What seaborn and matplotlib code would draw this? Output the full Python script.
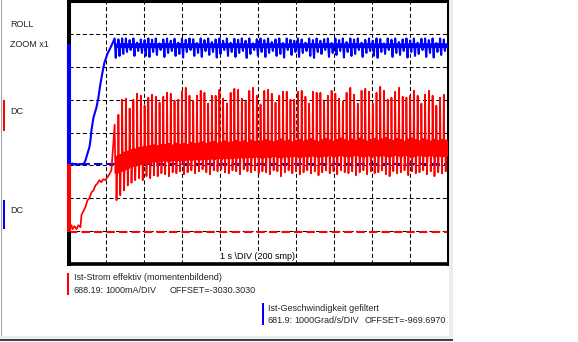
import numpy as np
import pandas as pd
import matplotlib
matplotlib.use("Agg")
import matplotlib.pyplot as plt
from matplotlib.patches import Rectangle
import seaborn as sns

# ---------------- data ----------------
RED_NAME = "Ist-Strom effektiv (momentenbildend)"
RED_INFO = ["688.19:", "1000mA/DIV", "OFFSET=-3030.3030"]
RED_INFO_X = [74, 105, 170]
BLUE_NAME = "Ist-Geschwindigkeit gefiltert"
BLUE_INFO = ["681.9:", "1000Grad/s/DIV", "OFFSET=-969.6970"]
BLUE_INFO_X = [268, 294, 365]
TIME_LABEL = "1 s \\DIV (200 smp)"

red_scale = 1000.0      # mA / DIV
red_offset = -3030.3030
blue_scale = 1000.0     # Grad/s / DIV
blue_offset = -969.6970

# current (mA) during start-up, before the ripple starts
red_start_t = [0.0, 0.026, 0.079, 0.105, 0.158, 0.211, 0.263, 0.316, 0.342, 0.395,
               0.447, 0.5, 0.553, 0.605, 0.658, 0.711, 0.763, 0.816, 0.868, 0.921,
               0.974, 1.026, 1.079, 1.132]
red_start_v = [270, 120, 210, 90, 180, 90, 210, 150, 520, 640,
               760, 970, 1030, 1210, 1270, 1420, 1480, 1580, 1520, 1610,
               1580, 1670, 1760, 1880]

# speed (Grad/s) ramp
blue_ramp_t = [0.0, 0.1, 0.2, 0.3, 0.368, 0.41, 0.447, 0.5, 0.553, 0.579, 0.605, 0.658,
               0.737, 0.789, 0.842, 0.895, 0.947, 1.026, 1.079, 1.132]
blue_ramp_v = [0, 20, -10, 10, 0, 30, 120, 330, 530, 730, 1030, 1420,
               1730, 2030, 2450, 2790, 3090, 3360, 3480, 3610]

# ripple period grid (seconds)
spike_first_t = 1.218
spike_last_t = 9.903

red_top = [3270, 3570, 4030, 4060, 3760, 4030, 4210, 4150, 3850, 4090,
           4180, 4120, 3940, 4120, 4240, 4210, 4000, 4030, 4270, 4390,
           4150, 4000, 4150, 4300, 4240, 3910, 4150, 4150, 4330, 4060,
           3910, 4240, 4360, 4330, 4060, 3970, 4300, 4390, 4150, 3880,
           4300, 4330, 4210, 3940, 4150, 4270, 4270, 4030, 4030, 4270,
           4300, 4120, 3910, 4270, 4240, 4240, 3970, 4150, 4300, 4210,
           4060, 3970, 4240, 4390, 4180, 3910, 4300, 4360, 4270, 3910,
           4240, 4420, 4300, 4030, 4090, 4270, 4390, 4120, 4090, 4150,
           4300, 4150, 3910, 4180, 4300, 4150, 3850, 4090, 4180]
red_low = [970, 1120, 1270, 1420, 1500, 1580, 1640, 1580, 1700, 1640,
           1730, 1700, 1790, 1760, 1700, 1820, 1790, 1850, 1760, 1820,
           1880, 1790, 1850, 1910, 1820, 1760, 1880, 1850, 1910, 1820,
           1790, 1880, 1850, 1760, 1910, 1850, 1820, 1880, 1790, 1850,
           1820, 1760, 1880, 1850, 1700, 1820, 1880, 1790, 1850, 1760,
           1820, 1880, 1790, 1850, 1730, 1820, 1880, 1790, 1850, 1760,
           1880, 1820, 1790, 1850, 1730, 1820, 1880, 1760, 1850, 1790,
           1820, 1880, 1760, 1700, 1850, 1790, 1820, 1880, 1730, 1850,
           1790, 1820, 1880, 1760, 1850, 1700, 1820, 1790, 1850]
red_band_hi = [2300, 2350, 2420, 2450, 2500, 2520, 2560, 2580, 2600, 2620,
               2640, 2620, 2660, 2650, 2680, 2640, 2700, 2660, 2690, 2650,
               2720, 2680, 2700, 2740, 2690, 2720, 2750, 2700, 2730, 2760,
               2720, 2740, 2780, 2730, 2760, 2720, 2790, 2750, 2730, 2770,
               2800, 2760, 2740, 2780, 2820, 2760, 2790, 2740, 2770, 2810,
               2760, 2790, 2830, 2780, 2750, 2800, 2840, 2790, 2760, 2810,
               2850, 2800, 2770, 2820, 2780, 2850, 2810, 2760, 2800, 2840,
               2790, 2820, 2870, 2810, 2780, 2830, 2800, 2760, 2820, 2850,
               2800, 2770, 2830, 2790, 2760, 2820, 2780, 2810, 2790]
red_band_lo = [1800, 1850, 1900, 1950, 2000, 2030, 2060, 2080, 2100, 2120,
               2150, 2130, 2160, 2180, 2150, 2190, 2170, 2200, 2180, 2210,
               2190, 2220, 2200, 2230, 2210, 2240, 2220, 2250, 2230, 2260,
               2240, 2270, 2250, 2280, 2260, 2290, 2270, 2300, 2280, 2260,
               2300, 2280, 2310, 2290, 2270, 2310, 2290, 2320, 2300, 2280,
               2320, 2300, 2330, 2310, 2290, 2330, 2310, 2340, 2300, 2320,
               2340, 2310, 2300, 2330, 2350, 2320, 2300, 2340, 2310, 2330,
               2310, 2340, 2320, 2300, 2350, 2330, 2310, 2340, 2320, 2300,
               2330, 2350, 2310, 2320, 2340, 2300, 2330, 2310, 2320]

blue_hi = [3830, 3800, 3830, 3830, 3780, 3830, 3700, 3800, 3780, 3830,
           3790, 3830, 3680, 3800, 3830, 3760, 3820, 3700, 3830, 3790,
           3830, 3810, 3690, 3830, 3780, 3830, 3720, 3800, 3830, 3760,
           3830, 3700, 3820, 3790, 3830, 3760, 3830, 3680, 3810, 3830,
           3780, 3830, 3720, 3800, 3830, 3690, 3830, 3790, 3760, 3830,
           3800, 3700, 3830, 3780, 3830, 3760, 3810, 3830, 3690, 3830,
           3780, 3830, 3720, 3830, 3800, 3830, 3700, 3790, 3830, 3760,
           3830, 3810, 3680, 3830, 3790, 3830, 3720, 3800, 3830, 3770,
           3830, 3700, 3820, 3830, 3780, 3830, 3690, 3830, 3800]
blue_lo = [3240, 3300, 3360, 3420, 3480, 3300, 3450, 3390, 3300, 3270,
           3420, 3330, 3480, 3270, 3390, 3450, 3300, 3360, 3250, 3420,
           3480, 3300, 3390, 3270, 3450, 3330, 3420, 3250, 3360, 3480,
           3300, 3420, 3270, 3390, 3450, 3240, 3360, 3480, 3300, 3420,
           3270, 3390, 3450, 3300, 3360, 3250, 3480, 3330, 3420, 3270,
           3390, 3450, 3300, 3240, 3420, 3360, 3480, 3270, 3390, 3330,
           3450, 3250, 3420, 3300, 3360, 3480, 3270, 3390, 3450, 3300,
           3240, 3420, 3360, 3480, 3270, 3390, 3330, 3450, 3250, 3420,
           3300, 3360, 3480, 3270, 3390, 3250, 3420, 3330, 3450]
blue_level_hi = 3650
blue_level_lo = 3570

# ---------------- build traces ----------------
n_sp = len(red_top)
spike_t = np.linspace(spike_first_t, spike_last_t, n_sp)
dt = (spike_last_t - spike_first_t) / (n_sp - 1)

rt, rv = list(red_start_t), list(red_start_v)
bt, bv = list(blue_ramp_t), list(blue_ramp_v)
red_frac = [0.0, 0.12, 0.25, 0.38, 0.5, 0.62, 0.75, 0.88]
blue_frac = [0.0, 0.12, 0.3, 0.45, 0.6, 0.75, 0.9]
for i in range(n_sp):
    rvals = [red_top[i], red_band_hi[i], red_band_lo[i], red_band_hi[i],
             red_low[i], red_band_lo[i], red_band_hi[i], red_band_lo[i]]
    for f, v in zip(red_frac, rvals):
        rt.append(spike_t[i] + f * dt)
        rv.append(v)
    bvals = [blue_hi[i], blue_level_lo, blue_lo[i], blue_level_hi,
             blue_level_lo, blue_level_hi, blue_level_lo]
    for f, v in zip(blue_frac, bvals):
        bt.append(spike_t[i] + f * dt)
        bv.append(v)

red_df = pd.DataFrame({"t": rt, "div": 4 + (np.array(rv) + red_offset) / red_scale})
blue_df = pd.DataFrame({"t": bt, "div": 4 + (np.array(bv) + blue_offset) / blue_scale})
red_zero = 4 + red_offset / red_scale
blue_zero = 4 + blue_offset / blue_scale

# ---------------- figure ----------------
sns.set_theme(style="white")
plt.rcParams["font.family"] = ["Liberation Sans", "DejaVu Sans"]
plt.rcParams["lines.scale_dashes"] = False

W, H = 578, 342
fig = plt.figure(figsize=(W / 100, H / 100), dpi=100)
fig.patch.set_facecolor("white")


def fx(x):
    return x / W


def fy(y):
    return 1 - y / H


ax = fig.add_axes([68.5 / W, 1 - 264 / H, 379 / W, 263 / H])
ax.set_facecolor("white")
ax.set_xlim(0, 10)
ax.set_ylim(0, 8)
ax.set_xticks(np.arange(1, 10))
ax.set_yticks(np.arange(1, 8))
ax.tick_params(length=0, labelbottom=False, labelleft=False)
ax.grid(True, color="black", lw=0.75, linestyle=(0, (2.9, 1.9)))
for side, lw in [("top", 2.2), ("bottom", 2.6), ("left", 2.9), ("right", 2.2)]:
    ax.spines[side].set_color("black")
    ax.spines[side].set_linewidth(lw)

ax.axhline(red_zero, color="#ff0000", lw=1.5, linestyle=(0, (6, 3)), zorder=2)
ax.axhline(blue_zero, color="#0000ff", lw=1.5, linestyle=(0, (6, 3)), zorder=2)

sns.lineplot(data=red_df, x="t", y="div", color="#ff0000", lw=1.25,
             estimator=None, sort=False, ax=ax, zorder=3)
sns.lineplot(data=blue_df, x="t", y="div", color="#0000ff", lw=1.5,
             estimator=None, sort=False, ax=ax, zorder=4)
ax.set_xlabel("")
ax.set_ylabel("")

# coloured channel markers on the left frame
ax.plot([0, 0], [blue_zero, 4 + (blue_level_lo + blue_offset) / blue_scale + 0.1],
        color="#0000ff", lw=2.9, clip_on=False, zorder=6, solid_capstyle="butt")
ax.plot([0, 0], [red_zero, blue_zero], color="#ff0000", lw=2.9,
        clip_on=False, zorder=6, solid_capstyle="butt")

ax.text(0.5, 0.012, TIME_LABEL, transform=ax.transAxes, ha="center", va="bottom",
        fontsize=6.5, color="black", zorder=7,
        bbox=dict(facecolor="white", edgecolor="none", pad=0.6))

# ---------------- side / bottom texts ----------------
fs = 6.5
fig.text(fx(10), fy(24.5), "ROLL", fontsize=fs, va="center", ha="left")
fig.text(fx(10), fy(44.5), "ZOOM x1", fontsize=fs, va="center", ha="left")
fig.text(fx(10), fy(111.5), "DC", fontsize=fs, va="center", ha="left")
fig.text(fx(10), fy(210.5), "DC", fontsize=fs, va="center", ha="left")
fig.text(fx(74), fy(278), RED_NAME, fontsize=fs, va="center", ha="left")
for s, x in zip(RED_INFO, RED_INFO_X):
    fig.text(fx(x), fy(290.5), s, fontsize=fs, va="center", ha="left")
fig.text(fx(268), fy(308.5), BLUE_NAME, fontsize=fs, va="center", ha="left")
for s, x in zip(BLUE_INFO, BLUE_INFO_X):
    fig.text(fx(x), fy(320.5), s, fontsize=fs, va="center", ha="left")


def vbar(x0, y0, y1, w, color):
    fig.add_artist(Rectangle((fx(x0), fy(y1)), w / W, (y1 - y0) / H,
                             transform=fig.transFigure, facecolor=color, edgecolor="none"))


vbar(3, 100, 131, 2.4, "#ff0000")
vbar(3, 200, 229, 2.4, "#0000ff")
vbar(67, 273, 295, 2.4, "#ff0000")
vbar(262, 303, 325, 2.4, "#0000ff")

# window decorations
fig.add_artist(Rectangle((fx(449), fy(339)), 4 / W, 339 / H, transform=fig.transFigure,
                         facecolor="#ececec", edgecolor="none"))
fig.add_artist(Rectangle((fx(0), fy(339)), 453 / W, 3 / H, transform=fig.transFigure,
                         facecolor="#ececec", edgecolor="none"))
fig.add_artist(Rectangle((fx(0), fy(341)), 453 / W, 2 / H, transform=fig.transFigure,
                         facecolor="#404040", edgecolor="none"))
fig.add_artist(Rectangle((fx(0.5), fy(336)), 1.2 / W, 336 / H, transform=fig.transFigure,
                         facecolor="#a0a0a0", edgecolor="none"))

fig.savefig("out.png", dpi=100, facecolor="white")
